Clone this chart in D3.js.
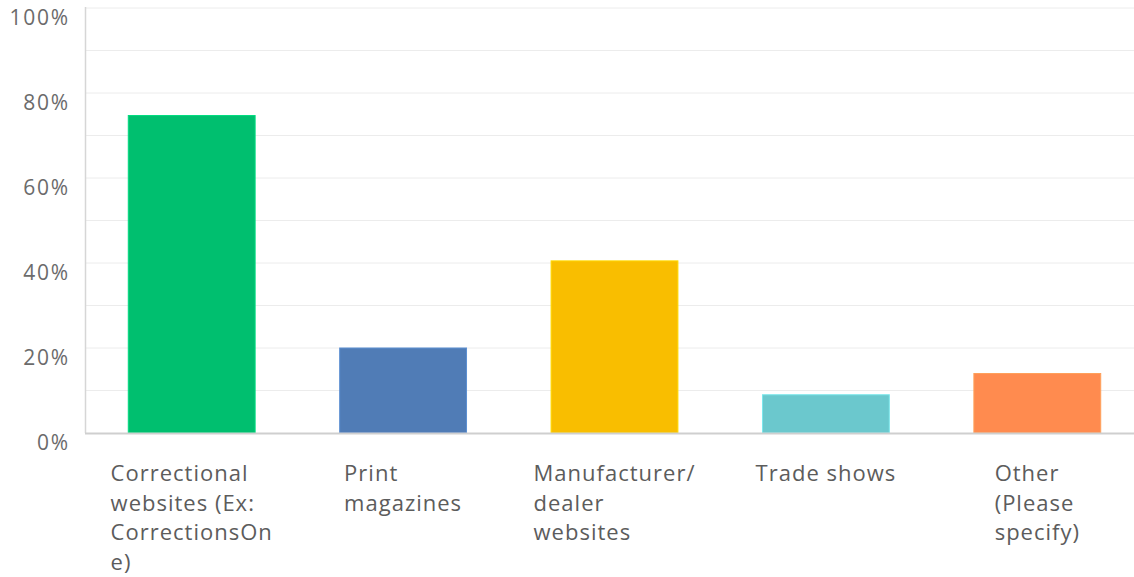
<!DOCTYPE html>
<html>
<head>
<meta charset="utf-8">
<script src="https://cdn.jsdelivr.net/npm/d3@7"></script>
<style>
  html, body { margin: 0; padding: 0; background: #fff; }
  svg { display: block; }
  text { font-family: "Open Sans", "Noto Sans", sans-serif; }
</style>
</head>
<body>
<svg id="chart" width="1134" height="577"></svg>
<script>
// Survey responses: share of respondents per information source
const categories = [
  "Correctional websites (Ex: CorrectionsOne)",
  "Print magazines",
  "Manufacturer/ dealer websites",
  "Trade shows",
  "Other (Please specify)"
];
const labelLines = [
  ["Correctional", "websites (Ex:", "CorrectionsOn", "e)"],
  ["Print", "magazines"],
  ["Manufacturer/", "dealer", "websites"],
  ["Trade shows"],
  ["Other", "(Please", "specify)"]
];
const values = [74.7, 20.0, 40.5, 9.0, 14.0];
const colors = ["#00bf6f", "#507cb6", "#f9be00", "#6bc8cd", "#ff8b4f"];
const yTicks = [0, 20, 40, 60, 80, 100];
const yGrid = [10, 20, 30, 40, 50, 60, 70, 80, 90, 100];

const svg = d3.select("#chart");
const plotLeft = 86, plotRight = 1143, plotTop = 8, plotBottom = 433;

const x = d3.scaleBand().domain(categories).range([plotLeft, plotRight])
  .paddingInner(0.4).paddingOuter(0.2);
const y = d3.scaleLinear().domain([0, 100]).range([plotBottom, plotTop]);

// grid lines
svg.append("g").selectAll("line").data(yGrid).join("line")
  .attr("x1", plotLeft).attr("x2", 1134)
  .attr("y1", d => y(d)).attr("y2", d => y(d))
  .attr("stroke", "#ececec").attr("stroke-width", 1);

// vertical axis line
svg.append("line")
  .attr("x1", plotLeft - 0.5).attr("x2", plotLeft - 0.5)
  .attr("y1", plotTop - 1).attr("y2", plotBottom)
  .attr("stroke", "#d6d6d6").attr("stroke-width", 1.5);

// bars
svg.append("g").selectAll("rect").data(values).join("rect")
  .attr("x", (d, i) => x(categories[i]))
  .attr("width", x.bandwidth())
  .attr("y", d => y(d))
  .attr("height", d => y(0) - y(d))
  .attr("fill", (d, i) => colors[i])
  .attr("stroke", (d, i) => d3.color(colors[i]).brighter(0.4))
  .attr("stroke-width", 1);

// baseline
svg.append("line")
  .attr("x1", plotLeft - 1).attr("x2", 1134)
  .attr("y1", plotBottom + 0.5).attr("y2", plotBottom + 0.5)
  .attr("stroke", "#cfcfcf").attr("stroke-width", 2);

// y tick labels
svg.append("g").selectAll("text").data(yTicks).join("text")
  .attr("x", 70)
  .attr("y", d => y(d) + 17)
  .attr("text-anchor", "end")
  .attr("font-size", 21)
  .attr("letter-spacing", 1.8)
  .attr("fill", "#6b6b6b")
  .text(d => d + "%");

// x category labels: left-aligned lines, block centred under each bar
const lg = svg.append("g");
categories.forEach((c, i) => {
  const t = lg.append("text")
    .attr("font-size", 22)
    .attr("letter-spacing", 1.0)
    .attr("fill", "#5c5c5c");
  labelLines[i].forEach((line, j) => {
    t.append("tspan").attr("x", 0).attr("y", 481 + j * 29.5).text(line);
  });
  const w = t.node().getBBox().width;
  const cx = x(c) + x.bandwidth() / 2;
  t.attr("transform", `translate(${cx - w / 2},0)`);
});
</script>
</body>
</html>
